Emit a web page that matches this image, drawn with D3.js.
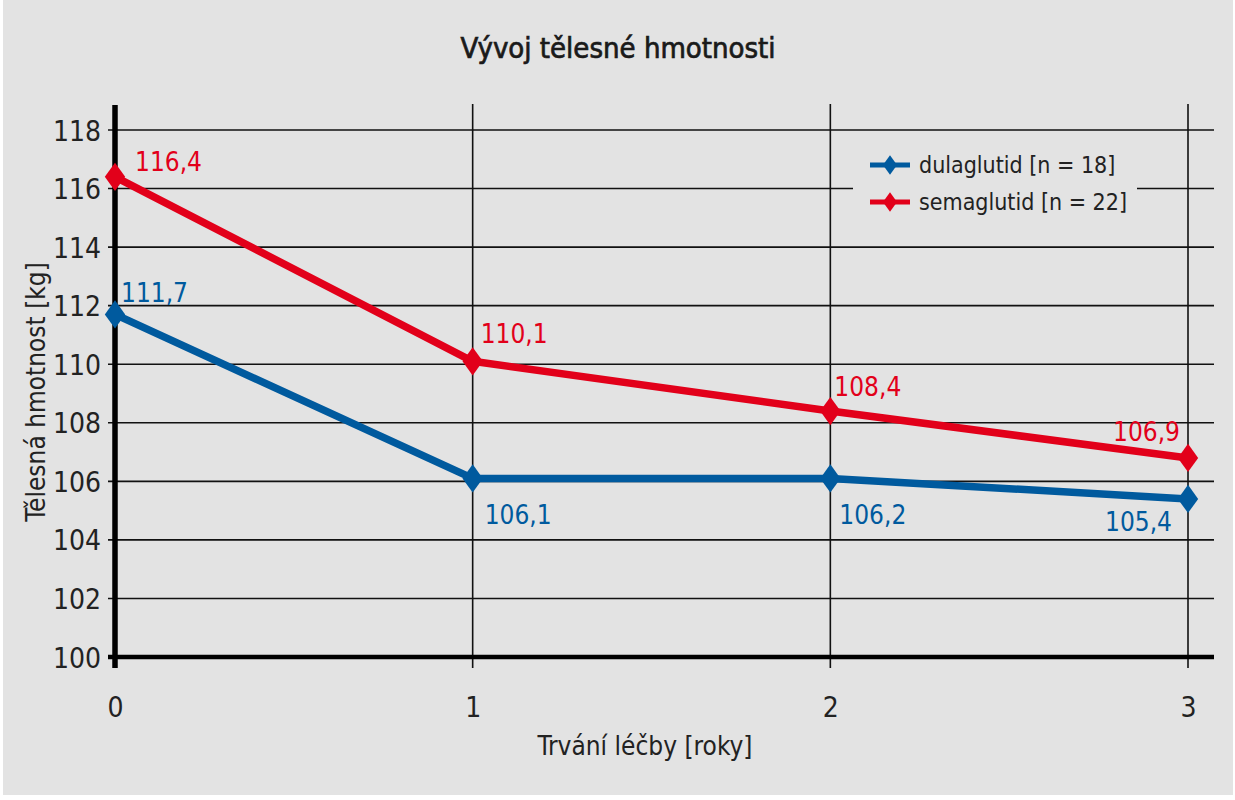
<!DOCTYPE html>
<html>
<head>
	<meta charset="utf-8">
	<title>Vývoj tělesné hmotnosti</title>
	<script src="https://cdn.jsdelivr.net/npm/d3@7"></script>
	<style>
		body { margin: 0; background: #ffffff; }
		svg text { font-family: "Liberation Sans Narrow", "DejaVu Sans Condensed", "Noto Sans", sans-serif; }
	</style>
</head>
<body>
	<div id="chart"></div>
	<script>
		// data
		var years = [0, 1, 2, 3];
		var dulaglutid = [111.7, 106.1, 106.1, 105.4];
		var dulaLabels = ["111,7", "106,1", "106,2", "105,4"];
		var semaglutid = [116.4, 110.1, 108.4, 106.8];
		var semaLabels = ["116,4", "110,1", "108,4", "106,9"];
		var yTicks = [100, 102, 104, 106, 108, 110, 112, 114, 116, 118];
		var legendNames = ["dulaglutid [n = 18]", "semaglutid [n = 22]"];

		var w = 1235, h = 800;
		var blue = "#005a9e", red = "#e2001a";

		var svg = d3.select("#chart").append("svg")
			.attr("width", w)
			.attr("height", h);

		// grey panel
		svg.append("rect")
			.attr("x", 3).attr("y", 0)
			.attr("width", 1230).attr("height", 795)
			.attr("fill", "#e3e3e3");

		var x = d3.scaleLinear().domain([0, 3]).range([115, 1188]);
		var y = d3.scaleLinear().domain([100, 118]).range([657, 130]);
		var xRight = 1214;

		// horizontal gridlines + tick marks
		svg.append("g").selectAll("line")
			.data(yTicks.slice(1))
			.enter().append("line")
			.attr("x1", 108).attr("x2", xRight)
			.attr("y1", function(d) { return y(d); })
			.attr("y2", function(d) { return y(d); })
			.attr("stroke", "#111").attr("stroke-width", 1.6);

		// vertical gridlines
		svg.append("g").selectAll("line")
			.data(years.slice(1))
			.enter().append("line")
			.attr("x1", function(d) { return x(d); })
			.attr("x2", function(d) { return x(d); })
			.attr("y1", 104).attr("y2", 668)
			.attr("stroke", "#111").attr("stroke-width", 1.6);

		// y axis labels
		var yAxis = d3.axisLeft(y).tickValues(yTicks).tickSize(0).tickPadding(14);
		var gy = svg.append("g").attr("transform", "translate(" + x(0) + ",0)").call(yAxis);
		gy.select(".domain").remove();
		gy.selectAll("text")
			.attr("font-size", "28px")
			.attr("fill", "#222")
			.attr("dy", "0.36em");

		// x axis labels
		var xAxis = d3.axisBottom(x).tickValues(years).tickSize(0).tickPadding(0).tickFormat(d3.format("d"));
		var gx = svg.append("g").attr("transform", "translate(0,697)").call(xAxis);
		gx.select(".domain").remove();
		gx.selectAll("text")
			.attr("font-size", "28px")
			.attr("fill", "#222")
			.attr("dy", "0.72em");

		// heavy axes
		svg.append("line")
			.attr("x1", 108).attr("x2", xRight)
			.attr("y1", y(100)).attr("y2", y(100))
			.attr("stroke", "#000").attr("stroke-width", 4.5);
		svg.append("line")
			.attr("x1", x(0)).attr("x2", x(0))
			.attr("y1", 105).attr("y2", 668)
			.attr("stroke", "#000").attr("stroke-width", 5.5);

		// legend box covers the grid
		svg.append("rect")
			.attr("x", 853).attr("y", 134)
			.attr("width", 284).attr("height", 92)
			.attr("fill", "#e3e3e3");

		var line = d3.line()
			.x(function(d, i) { return x(years[i]); })
			.y(function(d) { return y(d); });

		var diamond = d3.symbol().type(d3.symbolDiamond).size(230);

		function drawSeries(vals, labels, col, offs) {
			svg.append("path")
				.datum(vals)
				.attr("d", line)
				.attr("fill", "none")
				.attr("stroke", col)
				.attr("stroke-width", 7.5)
				.attr("stroke-linejoin", "round");

			svg.append("g").selectAll("path")
				.data(vals)
				.enter().append("path")
				.attr("d", diamond)
				.attr("transform", function(d, i) {
					return "translate(" + x(years[i]) + "," + y(d) + ") scale(1.25,1)";
				})
				.attr("fill", col);

			svg.append("g").selectAll("text")
				.data(vals)
				.enter().append("text")
				.text(function(d, i) { return labels[i]; })
				.attr("x", function(d, i) { return x(years[i]) + offs[i][0]; })
				.attr("y", function(d) { return y(d); })
				.attr("dy", function(d, i) { return offs[i][1]; })
				.attr("text-anchor", function(d, i) { return offs[i][2]; })
				.attr("font-size", "26px")
				.attr("fill", col);
		}

		drawSeries(semaglutid, semaLabels, red,
			[[20, -6, "start"], [8, -18, "start"], [4, -15, "start"], [-8, -17, "end"]]);
		drawSeries(dulaglutid, dulaLabels, blue,
			[[6, -12, "start"], [12, 46, "start"], [9, 46, "start"], [-16, 32, "end"]]);

		// legend
		var leg = svg.append("g").selectAll("g")
			.data(legendNames)
			.enter().append("g")
			.attr("transform", function(d, i) { return "translate(870," + (165 + i * 37) + ")"; });
		leg.append("line")
			.attr("x1", 0).attr("x2", 40)
			.attr("stroke", function(d, i) { return i === 0 ? blue : red; })
			.attr("stroke-width", 5);
		leg.append("path")
			.attr("d", d3.symbol().type(d3.symbolDiamond).size(110))
			.attr("transform", "translate(20,0) scale(1.25,1)")
			.attr("fill", function(d, i) { return i === 0 ? blue : red; });
		leg.append("text")
			.attr("x", 49).attr("dy", "0.35em")
			.attr("font-size", "23px")
			.attr("fill", "#222")
			.text(function(d) { return d; });

		// title and axis titles
		svg.append("text")
			.attr("x", 618).attr("y", 58)
			.attr("text-anchor", "middle")
			.attr("font-size", "29px")
			.attr("fill", "#1a1a1a")
			.attr("stroke", "#1a1a1a")
			.attr("stroke-width", 0.7)
			.text("Vývoj tělesné hmotnosti");

		svg.append("text")
			.attr("x", 645).attr("y", 755)
			.attr("text-anchor", "middle")
			.attr("font-size", "26px")
			.attr("fill", "#222")
			.text("Trvání léčby [roky]");

		svg.append("text")
			.attr("transform", "translate(45,392) rotate(-90)")
			.attr("text-anchor", "middle")
			.attr("font-size", "26px")
			.attr("fill", "#222")
			.text("Tělesná hmotnost [kg]");
	</script>
</body>
</html>
